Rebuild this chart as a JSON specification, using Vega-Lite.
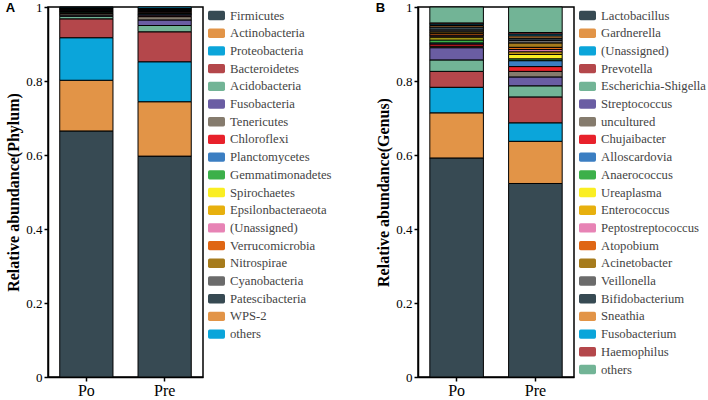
{
  "$schema": "https://vega.github.io/schema/vega-lite/v6.json",
  "padding": {"left": 5, "top": 0, "right": 0, "bottom": 0},
  "autosize": {"type": "pad"},
  "background": "white",
  "config": {
    "font": "Liberation Serif",
    "view": {"stroke": "black", "strokeWidth": 1.5},
    "axis": {"grid": false, "domainColor": "black", "domainWidth": 1.5, "tickColor": "black", "tickWidth": 1.5, "tickSize": 4, "labelColor": "black", "labelFont": "Liberation Serif", "titleFont": "Liberation Serif", "titleColor": "black"},
    "legend": {
      "title": null,
      "symbolType": "M-0.8,-0.55 L0.8,-0.55 Q1,-0.55 1,-0.35 L1,0.35 Q1,0.55 0.8,0.55 L-0.8,0.55 Q-1,0.55 -1,0.35 L-1,-0.35 Q-1,-0.55 -0.8,-0.55 Z",
      "symbolSize": 289,
      "symbolStrokeWidth": 0,
      "symbolStrokeColor": "transparent",
      "symbolOpacity": 1,
      "labelFont": "Liberation Serif",
      "labelFontSize": 12.7,
      "labelColor": "#444444",
      "labelOffset": 5,
      "rowPadding": 1.7,
      "offset": 5,
      "padding": 0
    },
    "title": {"font": "Liberation Sans", "fontSize": 13, "fontWeight": "bold", "color": "black"}
  },
  "datasets": {
    "phylum": [
      {"group": "Po", "taxon": "Firmicutes", "idx": 0, "value": 0.665},
      {"group": "Po", "taxon": "Actinobacteria", "idx": 1, "value": 0.137},
      {"group": "Po", "taxon": "Proteobacteria", "idx": 2, "value": 0.115},
      {"group": "Po", "taxon": "Bacteroidetes", "idx": 3, "value": 0.051},
      {"group": "Po", "taxon": "Acidobacteria", "idx": 4, "value": 0.007},
      {"group": "Po", "taxon": "Fusobacteria", "idx": 5, "value": 0.003},
      {"group": "Po", "taxon": "Tenericutes", "idx": 6, "value": 0.004},
      {"group": "Po", "taxon": "Chloroflexi", "idx": 7, "value": 0.002},
      {"group": "Po", "taxon": "Planctomycetes", "idx": 8, "value": 0.002},
      {"group": "Po", "taxon": "Gemmatimonadetes", "idx": 9, "value": 0.002},
      {"group": "Po", "taxon": "Spirochaetes", "idx": 10, "value": 0.001},
      {"group": "Po", "taxon": "Epsilonbacteraeota", "idx": 11, "value": 0.001},
      {"group": "Po", "taxon": "(Unassigned)", "idx": 12, "value": 0.002},
      {"group": "Po", "taxon": "Verrucomicrobia", "idx": 13, "value": 0.001},
      {"group": "Po", "taxon": "Nitrospirae", "idx": 14, "value": 0.001},
      {"group": "Po", "taxon": "Cyanobacteria", "idx": 15, "value": 0.001},
      {"group": "Po", "taxon": "Patescibacteria", "idx": 16, "value": 0.002},
      {"group": "Po", "taxon": "WPS-2", "idx": 17, "value": 0.001},
      {"group": "Po", "taxon": "others", "idx": 18, "value": 0.002},
      {"group": "Pre", "taxon": "Firmicutes", "idx": 0, "value": 0.597},
      {"group": "Pre", "taxon": "Actinobacteria", "idx": 1, "value": 0.147},
      {"group": "Pre", "taxon": "Proteobacteria", "idx": 2, "value": 0.108},
      {"group": "Pre", "taxon": "Bacteroidetes", "idx": 3, "value": 0.081},
      {"group": "Pre", "taxon": "Acidobacteria", "idx": 4, "value": 0.017},
      {"group": "Pre", "taxon": "Fusobacteria", "idx": 5, "value": 0.015},
      {"group": "Pre", "taxon": "Tenericutes", "idx": 6, "value": 0.009},
      {"group": "Pre", "taxon": "Chloroflexi", "idx": 7, "value": 0.004},
      {"group": "Pre", "taxon": "Planctomycetes", "idx": 8, "value": 0.003},
      {"group": "Pre", "taxon": "Gemmatimonadetes", "idx": 9, "value": 0.002},
      {"group": "Pre", "taxon": "Spirochaetes", "idx": 10, "value": 0.001},
      {"group": "Pre", "taxon": "Epsilonbacteraeota", "idx": 11, "value": 0.002},
      {"group": "Pre", "taxon": "(Unassigned)", "idx": 12, "value": 0.002},
      {"group": "Pre", "taxon": "Verrucomicrobia", "idx": 13, "value": 0.002},
      {"group": "Pre", "taxon": "Nitrospirae", "idx": 14, "value": 0.001},
      {"group": "Pre", "taxon": "Cyanobacteria", "idx": 15, "value": 0.002},
      {"group": "Pre", "taxon": "Patescibacteria", "idx": 16, "value": 0.002},
      {"group": "Pre", "taxon": "WPS-2", "idx": 17, "value": 0.001},
      {"group": "Pre", "taxon": "others", "idx": 18, "value": 0.004}
    ],
    "genus": [
      {"group": "Po", "taxon": "Lactobacillus", "idx": 0, "value": 0.592},
      {"group": "Po", "taxon": "Gardnerella", "idx": 1, "value": 0.122},
      {"group": "Po", "taxon": "(Unassigned)", "idx": 2, "value": 0.069},
      {"group": "Po", "taxon": "Prevotella", "idx": 3, "value": 0.043},
      {"group": "Po", "taxon": "Escherichia-Shigella", "idx": 4, "value": 0.031},
      {"group": "Po", "taxon": "Streptococcus", "idx": 5, "value": 0.033},
      {"group": "Po", "taxon": "uncultured", "idx": 6, "value": 0.004},
      {"group": "Po", "taxon": "Chujaibacter", "idx": 7, "value": 0.006},
      {"group": "Po", "taxon": "Alloscardovia", "idx": 8, "value": 0.003},
      {"group": "Po", "taxon": "Anaerococcus", "idx": 9, "value": 0.008},
      {"group": "Po", "taxon": "Ureaplasma", "idx": 10, "value": 0.006},
      {"group": "Po", "taxon": "Enterococcus", "idx": 11, "value": 0.004},
      {"group": "Po", "taxon": "Peptostreptococcus", "idx": 12, "value": 0.003},
      {"group": "Po", "taxon": "Atopobium", "idx": 13, "value": 0.005},
      {"group": "Po", "taxon": "Acinetobacter", "idx": 14, "value": 0.004},
      {"group": "Po", "taxon": "Veillonella", "idx": 15, "value": 0.005},
      {"group": "Po", "taxon": "Bifidobacterium", "idx": 16, "value": 0.008},
      {"group": "Po", "taxon": "Sneathia", "idx": 17, "value": 0.004},
      {"group": "Po", "taxon": "Fusobacterium", "idx": 18, "value": 0.004},
      {"group": "Po", "taxon": "Haemophilus", "idx": 19, "value": 0.003},
      {"group": "Po", "taxon": "others", "idx": 20, "value": 0.043},
      {"group": "Pre", "taxon": "Lactobacillus", "idx": 0, "value": 0.523},
      {"group": "Pre", "taxon": "Gardnerella", "idx": 1, "value": 0.114},
      {"group": "Pre", "taxon": "(Unassigned)", "idx": 2, "value": 0.05},
      {"group": "Pre", "taxon": "Prevotella", "idx": 3, "value": 0.07},
      {"group": "Pre", "taxon": "Escherichia-Shigella", "idx": 4, "value": 0.03},
      {"group": "Pre", "taxon": "Streptococcus", "idx": 5, "value": 0.024},
      {"group": "Pre", "taxon": "uncultured", "idx": 6, "value": 0.015},
      {"group": "Pre", "taxon": "Chujaibacter", "idx": 7, "value": 0.013},
      {"group": "Pre", "taxon": "Alloscardovia", "idx": 8, "value": 0.016},
      {"group": "Pre", "taxon": "Anaerococcus", "idx": 9, "value": 0.005},
      {"group": "Pre", "taxon": "Ureaplasma", "idx": 10, "value": 0.012},
      {"group": "Pre", "taxon": "Enterococcus", "idx": 11, "value": 0.007},
      {"group": "Pre", "taxon": "Peptostreptococcus", "idx": 12, "value": 0.006},
      {"group": "Pre", "taxon": "Atopobium", "idx": 13, "value": 0.006},
      {"group": "Pre", "taxon": "Acinetobacter", "idx": 14, "value": 0.012},
      {"group": "Pre", "taxon": "Veillonella", "idx": 15, "value": 0.007},
      {"group": "Pre", "taxon": "Bifidobacterium", "idx": 16, "value": 0.006},
      {"group": "Pre", "taxon": "Sneathia", "idx": 17, "value": 0.006},
      {"group": "Pre", "taxon": "Fusobacterium", "idx": 18, "value": 0.005},
      {"group": "Pre", "taxon": "Haemophilus", "idx": 19, "value": 0.004},
      {"group": "Pre", "taxon": "others", "idx": 20, "value": 0.069}
    ]
  },
  "spacing": 42,
  "resolve": {"scale": {"color": "independent"}, "legend": {"color": "independent"}},
  "hconcat": [
    {
      "title": {"text": "A", "anchor": "start", "frame": "bounds", "offset": -14},
      "width": 155,
      "height": 370,
      "data": {"name": "phylum"},
      "mark": {"type": "bar", "stroke": "black", "strokeWidth": 1},
      "encoding": {
        "x": {"field": "group", "type": "nominal", "sort": ["Po", "Pre"], "scale": {"paddingInner": 0.32, "paddingOuter": 0.15}, "axis": {"title": null, "labelAngle": 0, "labelFontSize": 16, "labelPadding": 1}},
        "y": {"field": "value", "type": "quantitative", "stack": "zero", "scale": {"domain": [0, 1], "nice": false}, "axis": {"title": "Relative abundance(Phylum)", "values": [0, 0.2, 0.4, 0.6, 0.8, 1], "format": "~g", "labelFontSize": 13, "titleFontSize": 16, "titleFontWeight": "bold", "titlePadding": 4}},
        "color": {"field": "taxon", "type": "nominal", "scale": {
          "domain": ["Firmicutes", "Actinobacteria", "Proteobacteria", "Bacteroidetes", "Acidobacteria", "Fusobacteria", "Tenericutes", "Chloroflexi", "Planctomycetes", "Gemmatimonadetes", "Spirochaetes", "Epsilonbacteraeota", "(Unassigned)", "Verrucomicrobia", "Nitrospirae", "Cyanobacteria", "Patescibacteria", "WPS-2", "others"],
          "range": ["#374a53", "#e29447", "#0ba5da", "#b4474b", "#72b496", "#6a5da3", "#857b6d", "#e8212b", "#3b7ec2", "#3cb04a", "#faee23", "#e7b00e", "#e783b5", "#df6614", "#a67b1c", "#6b6b6b", "#374a53", "#e29447", "#0ba5da"]}},
        "order": {"field": "idx", "type": "quantitative", "sort": "ascending"}
      }
    },
    {
      "title": {"text": "B", "anchor": "start", "frame": "bounds", "offset": -14},
      "width": 156,
      "height": 370,
      "data": {"name": "genus"},
      "mark": {"type": "bar", "stroke": "black", "strokeWidth": 1},
      "encoding": {
        "x": {"field": "group", "type": "nominal", "sort": ["Po", "Pre"], "scale": {"paddingInner": 0.32, "paddingOuter": 0.15}, "axis": {"title": null, "labelAngle": 0, "labelFontSize": 16, "labelPadding": 1}},
        "y": {"field": "value", "type": "quantitative", "stack": "zero", "scale": {"domain": [0, 1], "nice": false}, "axis": {"title": "Relative abundance(Genus)", "values": [0, 0.2, 0.4, 0.6, 0.8, 1], "format": "~g", "labelFontSize": 13, "titleFontSize": 16, "titleFontWeight": "bold", "titlePadding": 4}},
        "color": {"field": "taxon", "type": "nominal", "scale": {
          "domain": ["Lactobacillus", "Gardnerella", "(Unassigned)", "Prevotella", "Escherichia-Shigella", "Streptococcus", "uncultured", "Chujaibacter", "Alloscardovia", "Anaerococcus", "Ureaplasma", "Enterococcus", "Peptostreptococcus", "Atopobium", "Acinetobacter", "Veillonella", "Bifidobacterium", "Sneathia", "Fusobacterium", "Haemophilus", "others"],
          "range": ["#374a53", "#e29447", "#0ba5da", "#b4474b", "#72b496", "#6a5da3", "#857b6d", "#e8212b", "#3b7ec2", "#3cb04a", "#faee23", "#e7b00e", "#e783b5", "#df6614", "#a67b1c", "#6b6b6b", "#374a53", "#e29447", "#0ba5da", "#b4474b", "#72b496"]}},
        "order": {"field": "idx", "type": "quantitative", "sort": "ascending"}
      }
    }
  ]
}
